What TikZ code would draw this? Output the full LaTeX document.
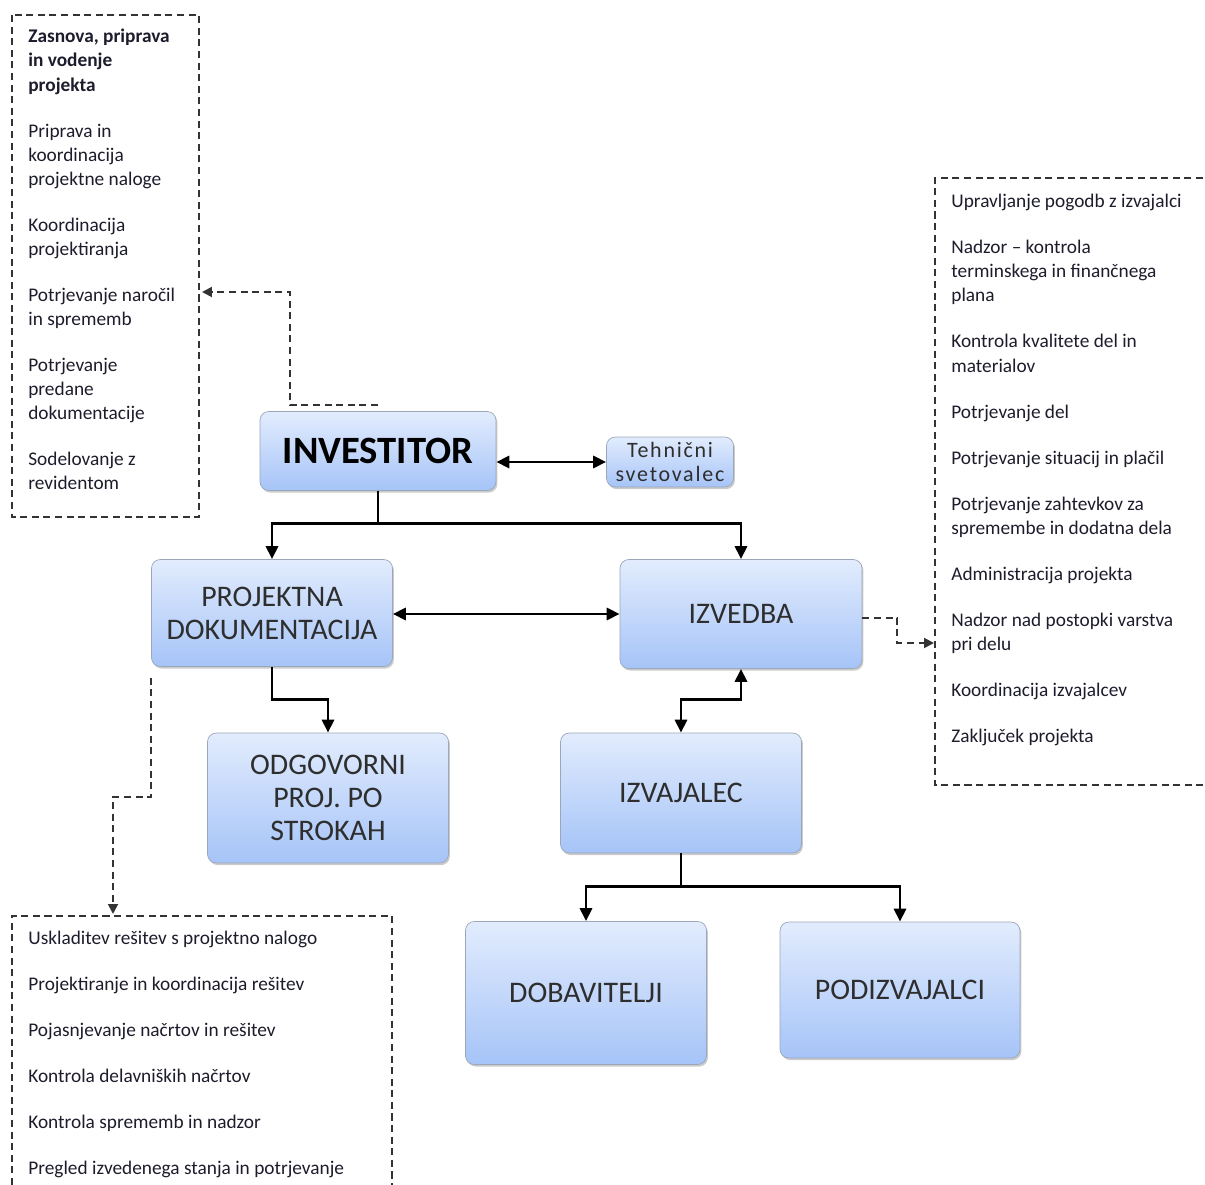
\documentclass[tikz,border=0pt]{standalone}
\usepackage{fontspec}
\setmainfont{Carlito}
\newfontfamily\spacedfont[LetterSpace=8]{Carlito}
\usepackage{tikz}
\definecolor{boxtop}{HTML}{E2ECFD}
\definecolor{boxbot}{HTML}{A6C4F8}
\definecolor{boxedge}{HTML}{9AA6BA}
\definecolor{boxtext}{HTML}{2E2E2E}
\definecolor{listtext}{HTML}{1C1C2C}
\definecolor{dashgray}{HTML}{333333}
\usetikzlibrary{arrows.meta, positioning, shadows}
\tikzset{
	obox/.style={draw=boxedge, rounded corners=5pt, top color=boxtop, bottom color=boxbot,
		drop shadow={shadow xshift=0.8pt, shadow yshift=-1.2pt, fill=black!45, opacity=.45},
		align=center, text=boxtext, inner sep=2pt, font=\fontsize{17}{18.7}\selectfont},
	oarr/.style={-{Triangle[length=2.6mm, width=2.4mm]}, line width=1.7pt},
	obiarr/.style={{Triangle[length=2.6mm, width=2.4mm]}-{Triangle[length=2.6mm, width=2.4mm]}, line width=1.7pt},
	darr/.style={-{Triangle[length=2mm, width=2mm]}, dashed, dash pattern=on 4pt off 2.6pt, line width=1.1pt, draw=dashgray},
	dframe/.style={dash pattern=on 4pt off 2.6pt, line width=1pt, draw=dashgray},
	dtext/.style={anchor=north west, align=left, inner sep=0pt, text=listtext, font=\fontsize{11}{13.7}\selectfont}
}

\begin{document}
\begin{tikzpicture}[x=0.02cm, y=-0.02cm]
	\useasboundingbox (0,0) rectangle (1205,1185);

	% main boxes
	\node[obox, minimum width=4.72cm, minimum height=1.58cm, text=black, font=\fontsize{22}{24}\selectfont\bfseries] (inv) at (378,451) {INVESTITOR};
	\node[obox, minimum width=2.54cm, minimum height=1cm, font=\fontsize{12.5}{14}\selectfont\spacedfont] (teh) at (670,462) {Tehnični\\svetovalec};
	\node[obox, minimum width=4.82cm, minimum height=2.14cm] (pd) at (272,613) {PROJEKTNA\\DOKUMENTACIJA};
	\node[obox, minimum width=4.84cm, minimum height=2.18cm] (izv) at (741,614) {IZVEDBA};
	\node[obox, minimum width=4.82cm, minimum height=2.6cm] (odg) at (328,798) {ODGOVORNI\\PROJ. PO\\STROKAH};
	\node[obox, minimum width=4.82cm, minimum height=2.4cm] (izj) at (681,793) {IZVAJALEC};
	\node[obox, minimum width=4.82cm, minimum height=2.86cm] (dob) at (586,993) {DOBAVITELJI};
	\node[obox, minimum width=4.8cm, minimum height=2.72cm] (pod) at (900,990) {PODIZVAJALCI};

	% dashed frames
	\draw[dframe] (12,15) rectangle (199,517);
	\draw[dframe] (1203,178) -- (935,178) -- (935,785) -- (1203,785);
	\draw[dframe] (12,1185) -- (12,916) -- (392,916) -- (392,1185);
	\coordinate (lfa) at (202,292);
	\coordinate (rfa) at (934,643);
	\coordinate (bfa) at (113,914);

	% frame texts
	\node[dtext] (ltxt) at (28,29) {\textbf{Zasnova, priprava}\\\textbf{in vodenje}\\\textbf{projekta}\\[12.5pt]
		Priprava in\\koordinacija\\projektne naloge\\[12.5pt]
		Koordinacija\\projektiranja\\[12.5pt]
		Potrjevanje naročil\\in sprememb\\[12.5pt]
		Potrjevanje\\predane\\dokumentacije\\[12.5pt]
		Sodelovanje z\\revidentom};
	\node[dtext] (rtxt) at (951,194) {Upravljanje pogodb z izvajalci\\[12.5pt]
		Nadzor – kontrola\\terminskega in finančnega\\plana\\[12.5pt]
		Kontrola kvalitete del in\\materialov\\[12.5pt]
		Potrjevanje del\\[12.5pt]
		Potrjevanje situacij in plačil\\[12.5pt]
		Potrjevanje zahtevkov za\\spremembe in dodatna dela\\[12.5pt]
		Administracija projekta\\[12.5pt]
		Nadzor nad postopki varstva\\pri delu\\[12.5pt]
		Koordinacija izvajalcev\\[12.5pt]
		Zaključek projekta};
	\node[dtext] (btxt) at (28,931) {Uskladitev rešitev s projektno nalogo\\[12.5pt]
		Projektiranje in koordinacija rešitev\\[12.5pt]
		Pojasnjevanje načrtov in rešitev\\[12.5pt]
		Kontrola delavniških načrtov\\[12.5pt]
		Kontrola sprememb in nadzor\\[12.5pt]
		Pregled izvedenega stanja in potrjevanje};

	% connectors
	\draw[obiarr] (inv.east |- teh.west) -- (teh.west);
	\draw[oarr] (inv.south) -- ++(0,33) -| (pd.north);
	\draw[oarr] (inv.south) -- ++(0,33) -| (izv.north);
	\draw[obiarr] (pd.east |- izv.west) -- (izv.west);
	\draw[oarr] (pd.south) -- ++(0,33) -| (odg.north);
	\draw[obiarr] (izv.south) -- ++(0,31) -| (izj.north);
	\draw[oarr] (izj.south) -- ++(0,33) -| (dob.north);
	\draw[oarr] (izj.south) -- ++(0,33) -| (pod.north);

	\draw[darr] ([yshift=0.12cm]inv.north) -- ++(-88,0) |- (lfa);
	\draw[darr] ([yshift=-0.08cm]izv.east) -- ++(35,0) |- (rfa);
	\draw[darr] ([yshift=-0.22cm]pd.south west) -- ++(0,119) -| (bfa);
\end{tikzpicture}
\end{document}
